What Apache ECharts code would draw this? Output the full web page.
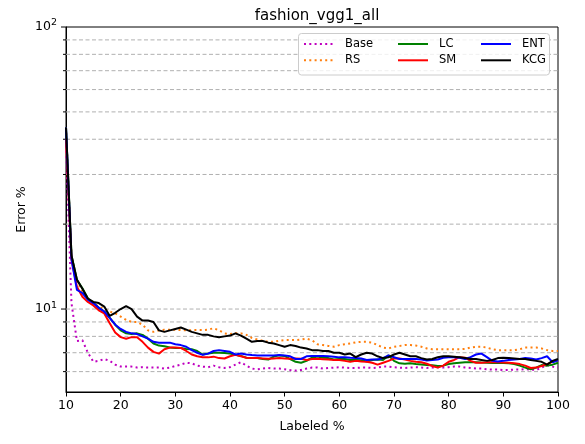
<!DOCTYPE html>
<html>
<head>
<meta charset="utf-8">
<title>fashion_vgg1_all</title>
<script src="https://cdn.jsdelivr.net/npm/echarts@6/dist/echarts.min.js"></script>
<style>
  html, body { margin: 0; padding: 0; background: #fff; }
  #chart { width: 585px; height: 444px; }
</style>
</head>
<body>
<div id="chart"></div>
<script>
// Labeled % sampling points
const labeledPct = [
  10, 11, 12, 13, 14, 15, 16, 17, 18, 19,
  20, 21, 22, 23, 24, 25, 26, 27, 28, 29,
  30, 31, 32, 33, 34, 35, 36, 37, 38, 39,
  40, 41, 42, 43, 44, 45, 46, 47, 48, 49,
  50, 51, 52, 53, 54, 55, 56, 57, 58, 59,
  60, 61, 62, 63, 64, 65, 66, 67, 68, 69,
  70, 71, 72, 73, 74, 75, 76, 77, 78, 79,
  80, 81, 82, 83, 84, 85, 86, 87, 88, 89,
  90, 91, 92, 93, 94, 95, 96, 97, 98, 99,
  100
];

// Error % per method
const errBase = [
  38, 10.5, 7.7, 7.75, 7.0, 6.5, 6.55, 6.65, 6.55, 6.35,
  6.25, 6.25, 6.25, 6.2, 6.22, 6.2, 6.2, 6.2, 6.15, 6.2,
  6.28, 6.35, 6.45, 6.42, 6.3, 6.25, 6.22, 6.3, 6.22, 6.18,
  6.22, 6.35, 6.48, 6.3, 6.15, 6.12, 6.15, 6.18, 6.15, 6.15,
  6.12, 6.08, 6.05, 6.08, 6.15, 6.2, 6.2, 6.15, 6.18, 6.2,
  6.22, 6.2, 6.18, 6.18, 6.2, 6.2, 6.18, 6.2, 6.25, 6.25,
  6.22, 6.2, 6.18, 6.2, 6.22, 6.2, 6.18, 6.2, 6.22, 6.2,
  6.22, 6.25, 6.25, 6.2, 6.18, 6.15, 6.15, 6.12, 6.1, 6.1,
  6.08, 6.08, 6.1, 6.1, 6.12, 6.1, 6.08, 6.2, 6.32, 6.25,
  6.2
];
const errRS = [
  44, 15.5, 12.5, 11.5, 10.8, 10.5, 10.2, 10.0, 9.8, 9.65,
  9.4, 9.15, 9.0, 9.0, 8.8, 8.4, 8.3, 8.4, 8.45, 8.45,
  8.45, 8.42, 8.4, 8.42, 8.42, 8.42, 8.45, 8.55, 8.4, 8.2,
  8.15, 8.2, 8.2, 8.1, 7.9, 7.8, 7.72, 7.65, 7.65, 7.72,
  7.76, 7.76, 7.76, 7.8, 7.85, 7.75, 7.5, 7.45, 7.4, 7.35,
  7.45, 7.5, 7.55, 7.62, 7.65, 7.65, 7.6, 7.45, 7.3, 7.25,
  7.35, 7.4, 7.45, 7.45, 7.42, 7.35, 7.25, 7.2, 7.2, 7.2,
  7.2, 7.2, 7.2, 7.22, 7.3, 7.35, 7.35, 7.3, 7.2, 7.15,
  7.15, 7.15, 7.15, 7.2, 7.3, 7.3, 7.3, 7.25, 7.15, 7.1,
  7.1
];
const errLC = [
  44, 15.5, 12.7, 11.85, 10.9, 10.5, 10.1, 9.8, 9.3, 8.8,
  8.4, 8.2, 8.15, 8.2, 8.1, 7.85, 7.55, 7.42, 7.38, 7.3,
  7.28, 7.28, 7.22, 7.2, 7.1, 6.9, 6.95, 7.0, 7.0, 6.98,
  6.95, 6.88, 6.82, 6.72, 6.7, 6.7, 6.65, 6.62, 6.78, 6.85,
  6.82, 6.65, 6.5, 6.45, 6.55, 6.72, 6.78, 6.72, 6.7, 6.62,
  6.65, 6.65, 6.6, 6.6, 6.58, 6.52, 6.6, 6.62, 6.6, 6.85,
  6.55, 6.42, 6.4, 6.42, 6.38, 6.36, 6.33, 6.32, 6.28, 6.3,
  6.38, 6.42, 6.45, 6.48, 6.48, 6.48, 6.46, 6.45, 6.44, 6.44,
  6.44, 6.42, 6.38, 6.3, 6.2, 6.12, 6.2, 6.33, 6.3, 6.35,
  6.45
];
const errSM = [
  40, 15.0, 12.0, 11.05, 10.6, 10.3, 9.9, 9.65, 8.9, 8.25,
  7.95, 7.85, 7.95, 7.95, 7.65, 7.3, 7.05, 6.95, 7.2, 7.3,
  7.3, 7.28, 7.1, 6.9, 6.8, 6.75, 6.74, 6.78, 6.7, 6.68,
  6.8, 6.88, 6.8, 6.72, 6.7, 6.7, 6.68, 6.66, 6.68, 6.7,
  6.68, 6.66, 6.68, 6.66, 6.6, 6.65, 6.66, 6.64, 6.62, 6.6,
  6.6, 6.55, 6.5, 6.55, 6.52, 6.5, 6.45, 6.35, 6.45, 6.55,
  6.68, 6.68, 6.62, 6.55, 6.5, 6.48, 6.4, 6.28, 6.2, 6.3,
  6.5, 6.6, 6.75, 6.72, 6.55, 6.45, 6.45, 6.47, 6.48, 6.47,
  6.46, 6.45, 6.42, 6.38, 6.3, 6.18, 6.2, 6.28, 6.38, 6.5,
  6.6
];
const errENT = [
  44, 15.0, 11.7, 11.4, 10.8, 10.5, 10.1, 9.8, 9.3, 8.8,
  8.5, 8.3, 8.2, 8.15, 8.0, 7.85, 7.65, 7.6, 7.6, 7.6,
  7.5, 7.45, 7.35, 7.15, 7.0, 6.88, 6.95, 7.1, 7.15, 7.1,
  7.05, 6.9, 6.95, 6.9, 6.87, 6.85, 6.85, 6.85, 6.85, 6.87,
  6.85, 6.8, 6.65, 6.65, 6.8, 6.82, 6.82, 6.82, 6.8, 6.78,
  6.74, 6.75, 6.72, 6.7, 6.68, 6.6, 6.62, 6.62, 6.7, 6.85,
  6.75, 6.65, 6.65, 6.65, 6.65, 6.62, 6.57, 6.6, 6.62, 6.72,
  6.75, 6.75, 6.72, 6.65, 6.75, 6.9, 6.95, 6.75, 6.55, 6.52,
  6.55, 6.6, 6.62, 6.65, 6.7, 6.68, 6.62, 6.7, 6.8, 6.48,
  6.58
];
const errKCG = [
  44, 15.5, 12.7, 11.8, 10.9, 10.6, 10.5, 10.2, 9.45, 9.7,
  10.0, 10.25, 10.0, 9.4, 9.1, 9.1, 9.0, 8.4, 8.3, 8.4,
  8.5, 8.6, 8.45, 8.3, 8.2, 8.1, 8.1, 8.0, 7.95, 8.0,
  8.05, 8.2, 8.05, 7.85, 7.65, 7.7, 7.7, 7.6, 7.55, 7.45,
  7.35, 7.45, 7.4, 7.3, 7.25, 7.15, 7.15, 7.1, 7.1, 7.0,
  7.0, 6.9, 6.95, 6.75, 6.9, 7.0, 6.95, 6.8, 6.7, 6.75,
  6.9, 7.0, 6.9, 6.8, 6.8, 6.7, 6.62, 6.65, 6.75, 6.8,
  6.8, 6.78, 6.75, 6.7, 6.65, 6.65, 6.6, 6.55, 6.6, 6.7,
  6.72, 6.7, 6.68, 6.65, 6.65, 6.6, 6.55, 6.5, 6.35, 6.55,
  6.65
];

// Axis ticks
const xTicks = [10, 20, 30, 40, 50, 60, 70, 80, 90, 100];
const yMajorTicks = [10, 100];
const yMinorTicks = [6, 7, 8, 9, 20, 30, 40, 50, 60, 70, 80, 90];

const FONT = 'DejaVu Sans';

function pairs(ys) {
  return labeledPct.map((x, i) => [x, ys[i]]);
}

function lineSeries(name, ys, color, dotted) {
  return {
    name: name,
    type: 'line',
    data: pairs(ys),
    symbol: 'none',
    showSymbol: false,
    smooth: false,
    clip: true,
    color: color,
    lineStyle: { color: color, width: 2, type: dotted ? [2, 3.3] : 'solid', cap: 'butt' },
    emphasis: { disabled: true },
    z: 3
  };
}

// y grid lines and ticks (log positions resolved through the axis)
const yGridItems = yMinorTicks.map(v => [10, v, 0]).concat(yMajorTicks.map(v => [10, v, 1]));

const gridSeries = {
  type: 'custom',
  silent: true,
  clip: false,
  z: 1,
  data: yGridItems,
  renderItem: function (params, api) {
    const v = api.value(1);
    const major = api.value(2) === 1;
    const cs = params.coordSys;
    const y = api.coord([10, v])[1];
    const children = [];
    if (v < 100) {
      children.push({
        type: 'line',
        shape: { x1: cs.x, y1: y, x2: cs.x + cs.width, y2: y },
        style: { stroke: '#b0b0b0', lineWidth: 1, lineDash: [4, 2.5] }
      });
    }
    const len = major ? 5 : 3;
    children.push({
      type: 'line',
      shape: { x1: cs.x - len, y1: y, x2: cs.x, y2: y },
      style: { stroke: '#000', lineWidth: 1 }
    });
    return { type: 'group', children: children };
  }
};

const legendCommon = {
  orient: 'vertical',
  top: 38,
  itemWidth: 30,
  itemHeight: 14,
  itemGap: 4.3,
  padding: 0,
  selectedMode: false,
  itemStyle: { opacity: 0 },
  textStyle: { fontFamily: FONT, fontSize: 11.5, color: '#000', padding: [0, 0, 0, 6] }
};

const option = {
  animation: false,
  backgroundColor: '#fff',
  title: {
    text: 'fashion_vgg1_all',
    left: 312,
    textAlign: 'center',
    top: 4,
    textStyle: { fontFamily: FONT, fontSize: 15, fontWeight: 'normal', color: '#000' }
  },
  legend: [
    Object.assign({ left: 303, data: ['Base', 'RS'] }, legendCommon),
    Object.assign({ left: 397, data: ['LC', 'SM'] }, legendCommon),
    Object.assign({ left: 480, data: ['ENT', 'KCG'] }, legendCommon)
  ],
  graphic: [{
    type: 'rect',
    z: 3,
    shape: { x: 298.5, y: 33.5, width: 251, height: 41.5, r: 3 },
    style: { fill: 'rgba(255,255,255,0.8)', stroke: '#cccccc', lineWidth: 1 }
  }],
  grid: {
    left: 66, right: 27, top: 27, bottom: 52,
    containLabel: false,
    show: true,
    borderColor: '#000',
    borderWidth: 1,
    backgroundColor: 'transparent'
  },
  xAxis: {
    type: 'value',
    min: 10, max: 100, interval: 10,
    name: 'Labeled %',
    nameLocation: 'middle',
    nameGap: 28,
    nameMoveOverlap: false,
    nameTextStyle: { fontFamily: FONT, fontSize: 12.5, color: '#000' },
    axisLine: { show: true, lineStyle: { color: '#000', width: 1 } },
    axisTick: { show: true, inside: false, length: 4.5, lineStyle: { color: '#000' } },
    axisLabel: { fontFamily: FONT, fontSize: 12.5, color: '#000', margin: 7,
      formatter: v => (xTicks.indexOf(v) >= 0 ? String(v) : '') },
    splitLine: { show: false }
  },
  yAxis: {
    type: 'log',
    logBase: 10,
    min: 5.08, max: 100,
    name: 'Error %',
    nameLocation: 'middle',
    nameGap: 38,
    nameRotate: 90,
    nameMoveOverlap: false,
    nameTextStyle: { fontFamily: FONT, fontSize: 12.5, color: '#000' },
    axisLine: { show: true, lineStyle: { color: '#000', width: 1 } },
    axisTick: { show: false },
    splitLine: { show: false },
    axisLabel: {
      fontFamily: FONT, fontSize: 12.5, color: '#000', margin: 9,
      showMinLabel: false,
      formatter: function (v) {
        const e = Math.round(Math.log10(v));
        const match = yMajorTicks.some(t => Math.abs(t - v) < 1e-6 * t);
        return match ? '10{s|' + e + '}' : '';
      },
      rich: {
        s: { fontFamily: FONT, fontSize: 9.5, color: '#000', padding: [0, 0, 8, 0] }
      }
    }
  },
  series: [
    gridSeries,
    lineSeries('Base', errBase, '#bf00bf', true),
    lineSeries('RS', errRS, '#ff7f0e', true),
    lineSeries('LC', errLC, '#008000', false),
    lineSeries('SM', errSM, '#ff0000', false),
    lineSeries('ENT', errENT, '#0000ff', false),
    lineSeries('KCG', errKCG, '#000000', false)
  ]
};

const chart = echarts.init(document.getElementById('chart'), null, { renderer: 'canvas' });
chart.setOption(option);
</script>
</body>
</html>
